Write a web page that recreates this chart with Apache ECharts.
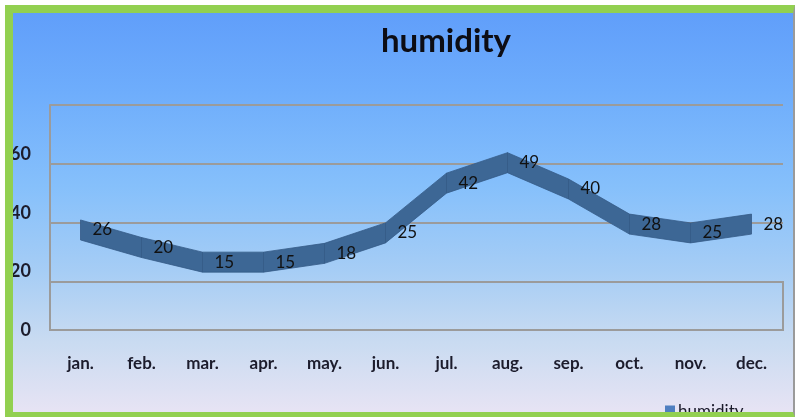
<!DOCTYPE html>
<html>
<head>
<meta charset="utf-8">
<title>humidity</title>
<script src="https://cdn.jsdelivr.net/npm/echarts@6/dist/echarts.min.js"></script>
<style>
  html, body { margin: 0; padding: 0; background: #ffffff; }
  #wrap { position: relative; width: 795px; height: 417px; overflow: hidden; }
  #chart {
    position: absolute; left: 0; top: 0; width: 795px; height: 417px;
    background: linear-gradient(to bottom, #5e9cfa 0%, #6eadfc 22%, #86c0fb 45%, #a6cdf5 65%, #c9dbf1 82%, #e9e4f4 100%);
  }
  #frame {
    position: absolute; left: 0; top: 0; width: 795px; height: 417px;
    box-sizing: border-box; border-top: 5px solid #ffffff; border-left: 5px solid #ffffff;
    pointer-events: none;
  }
  #frame div {
    width: 100%; height: 100%; box-sizing: border-box;
    border-top: 8px solid #92d050; border-left: 8px solid #92d050;
    border-bottom: 5px solid #92d050; border-right: 2px solid #9a9a9a;
  }
</style>
</head>
<body>
<div id="wrap">
  <div id="chart"></div>
  <div id="frame"><div></div></div>
</div>
<script>
// Monthly humidity values
const months = ['jan.', 'feb.', 'mar.', 'apr.', 'may.', 'jun.', 'jul.', 'aug.', 'sep.', 'oct.', 'nov.', 'dec.'];
const humidity = [26, 20, 15, 15, 18, 25, 42, 49, 40, 28, 25, 28];
const yTicks = [0, 20, 40, 60];

const GRID_LINE = '#9b9b9b';
const RIBBON = '#3d6795';
const RIBBON_EDGE = '#355b86';
const RIBBON_DEPTH = 20; // visual thickness of the 3D ribbon, px

const chart = echarts.init(document.getElementById('chart'), null, { renderer: 'canvas' });

const ribbonData = humidity.map((v, i) => [i, v]);

function renderRibbon(params, api) {
  const i = api.value(0);
  const v = api.value(1);
  const p0 = api.coord([i, v]);
  const half = RIBBON_DEPTH / 2;
  const children = [];
  if (i < humidity.length - 1) {
    const p1 = api.coord([i + 1, humidity[i + 1]]);
    children.push({
      type: 'polygon',
      shape: {
        points: [
          [p0[0], p0[1] - half],
          [p1[0], p1[1] - half],
          [p1[0], p1[1] + half],
          [p0[0], p0[1] + half]
        ]
      },
      style: { fill: RIBBON, stroke: RIBBON_EDGE, lineWidth: 0.8 },
      z2: 1
    });
  }
  children.push({
    type: 'text',
    x: p0[0] + 12,
    y: p0[1],
    style: {
      text: String(v),
      fill: '#111111',
      font: '17px Lato, "Liberation Sans", sans-serif',
      verticalAlign: 'middle',
      align: 'left'
    },
    z2: 10
  });
  return { type: 'group', children: children };
}

const option = {
  backgroundColor: 'transparent',
  animation: false,
  title: {
    text: 'humidity',
    left: 441,
    textAlign: 'center',
    top: 20,
    textStyle: {
      fontFamily: 'Lato, "Liberation Sans", sans-serif',
      fontSize: 33,
      fontWeight: 'bold',
      color: '#0d0d14'
    }
  },
  legend: {
    data: [{ name: 'humidity', icon: 'rect' }],
    left: 660,
    top: 398,
    itemWidth: 10,
    itemHeight: 12,
    itemGap: 4,
    textStyle: { fontFamily: 'Lato, sans-serif', fontSize: 17, color: '#1a1a2a', padding: [0, 0, 0, -2] }
  },
  grid: [
    // back wall with its gridlines
    { left: 50, width: 733, top: 105, height: 177, containLabel: false },
    // floor
    { left: 50, width: 733, top: 282, height: 48, show: true, borderColor: GRID_LINE, borderWidth: 2, backgroundColor: 'transparent' },
    // value labels and month labels
    { left: 50, width: 732, top: 96, height: 234 },
    // ribbon, set forward in depth
    { left: 50, width: 732, top: 72, height: 234 }
  ],
  xAxis: [
    { gridIndex: 0, type: 'category', data: months, show: false },
    { gridIndex: 1, type: 'category', data: months, show: false },
    {
      gridIndex: 2, type: 'category', data: months, boundaryGap: true,
      axisLine: { show: false }, axisTick: { show: false },
      axisLabel: {
        margin: 25, fontFamily: 'Lato, sans-serif', fontSize: 17, fontWeight: 'bold', color: '#1c1c2c'
      }
    },
    { gridIndex: 3, type: 'category', data: months, boundaryGap: true, show: false }
  ],
  yAxis: [
    {
      gridIndex: 0, type: 'value', min: 20, max: 80, interval: 20,
      axisLabel: { show: false }, axisTick: { show: false },
      axisLine: { show: true, lineStyle: { color: GRID_LINE, width: 2 } },
      splitLine: { show: true, lineStyle: { color: GRID_LINE, width: 2 } }
    },
    { gridIndex: 1, type: 'value', show: false },
    {
      gridIndex: 2, type: 'value', min: 0, max: 80, interval: 20,
      axisLine: { show: false }, axisTick: { show: false }, splitLine: { show: false },
      axisLabel: {
        margin: 19, fontFamily: 'Lato, sans-serif', fontSize: 18, fontWeight: 'bold', color: '#1c1c2c',
        formatter: (val) => (yTicks.indexOf(val) >= 0 ? String(val) : '')
      }
    },
    { gridIndex: 3, type: 'value', min: 0, max: 80, show: false }
  ],
  series: [
    {
      name: 'humidity',
      type: 'custom',
      xAxisIndex: 3,
      yAxisIndex: 3,
      data: ribbonData,
      encode: { x: 0, y: 1 },
      renderItem: renderRibbon,
      itemStyle: { color: '#4f7fc0' },
      clip: false,
      z: 5
    }
  ]
};

chart.setOption(option);
</script>
</body>
</html>
